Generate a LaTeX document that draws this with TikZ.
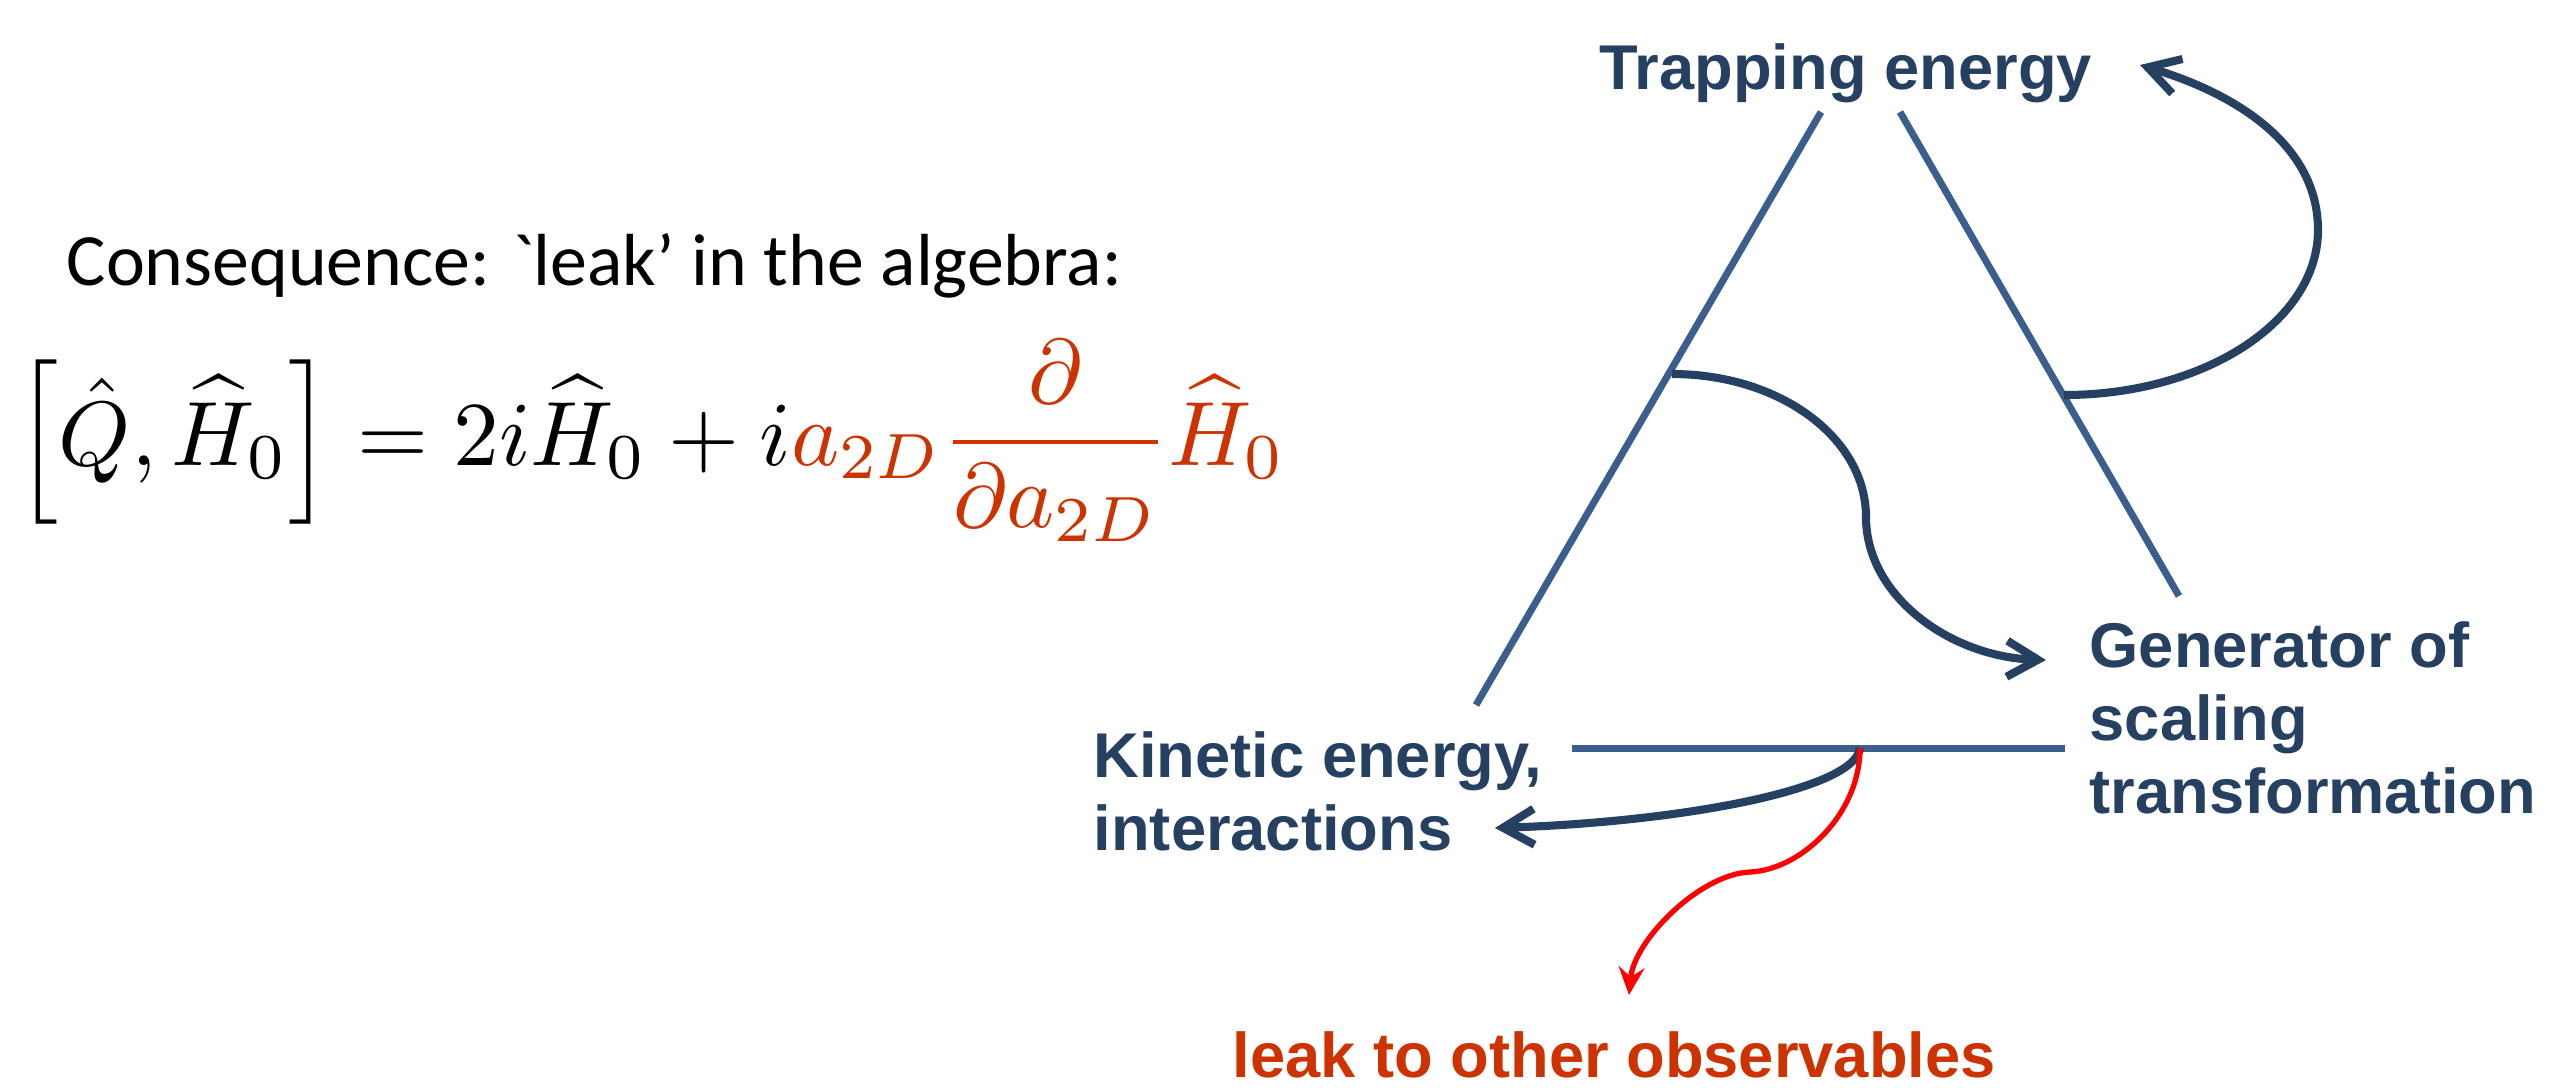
\documentclass[tikz,border=0pt]{standalone}
\usepackage[no-math]{fontspec}
\setmainfont{Carlito}
\newfontfamily\labelfont{Liberation Sans}
\usetikzlibrary{arrows.meta}
\definecolor{labelblue}{RGB}{38,64,97}
\definecolor{edgeblue}{RGB}{59,94,140}
\definecolor{leakred}{RGB}{204,51,0}
\tikzset{tag/.style={font=\labelfont\bfseries\fontsize{18}{20.7}\selectfont,text=labelblue,inner sep=0pt,align=left,anchor=base west},
  side/.style={draw=edgeblue,line width=2pt},
  flow/.style={draw=labelblue,line width=2.3pt,-{Straight Barb[length=3.1mm,width=3.6mm]}},
  leakflow/.style={draw=red,line width=1.5pt,-{Stealth[length=2.8mm,width=2.6mm,inset=1mm]}}}

\begin{document}
\begin{tikzpicture}[x=0.1mm,y=-0.1mm]
  \path[use as bounding box] (0,0) rectangle (2551,1089);
  \node[anchor=base west,inner sep=0pt,font=\fontsize{21}{25}\selectfont] (cons) at (66,285)
    {Consequence: \textasciigrave leak' in the algebra:};
  \node[anchor=base west,inner sep=0pt,font=\fontsize{10}{12}\selectfont,scale=2.6,transform shape] (comm) at (14,465)
    {$\displaystyle \Bigl[\hat{Q},\widehat{H}_0\Bigr] = 2i\widehat{H}_0 + i\textcolor{leakred}{a_{2D}\frac{\partial}{\partial a_{2D}}\widehat{H}_0}$};
  \node[tag] (trap) at (1599,89) {Trapping energy};
  \node[tag] (gen) at (2089,813) {Generator of\\scaling\\transformation};
  \node[tag] (kin) at (1093,850) {Kinetic energy,\\interactions};
  \node[tag,text=leakred] (obs) at (1232,1077) {leak to other observables};
  \coordinate (lt) at (1821,112);
  \coordinate (lb) at (1476,705);
  \coordinate (rt) at (1900,112);
  \coordinate (rb) at (2179,596);
  \coordinate (hl) at (1572,748);
  \coordinate (hr) at (2065,748);
  \draw[side] (lt) -- (lb);
  \draw[side] (rt) -- (rb);
  \draw[side] (hl) -- (hr);
  \coordinate (lmid) at (1672,374);
  \coordinate (rmid) at (2064,395);
  \coordinate (hmid) at (1860,748);
  \coordinate (traptip) at (2140,65);
  \coordinate (gentip) at (2046,660);
  \coordinate (kintip) at (1495,828);
  \coordinate (obstip) at (1629,995);
  \draw[flow] (rmid) .. controls (2205,395) and (2318,321) .. (2318,230)
    .. controls (2318,147) and (2240,95) .. (traptip);
  \draw[flow] (lmid) .. controls (1780,374) and (1866,438) .. (1866,517)
    .. controls (1866,596) and (1950,657) .. (gentip);
  \draw[flow] (hmid) .. controls (1855,790) and (1680,822) .. (kintip);
  \draw[leakflow] (hmid) .. controls (1860,815) and (1800,870) .. (1750,872)
    .. controls (1700,874) and (1634,940) .. (obstip);
\end{tikzpicture}
\end{document}
